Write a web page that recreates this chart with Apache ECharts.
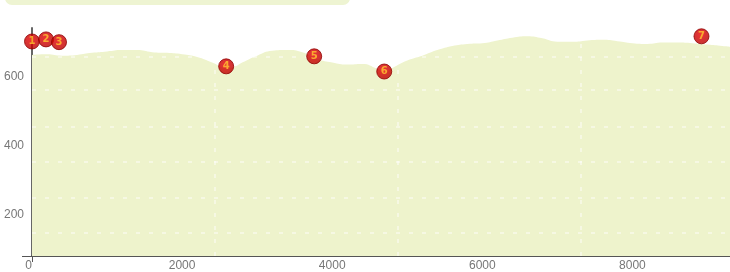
<!DOCTYPE html>
<html>
<head>
<meta charset="utf-8">
<script src="https://cdn.jsdelivr.net/npm/echarts@6/dist/echarts.min.js"></script>
<style>html,body{margin:0;padding:0;background:#fff}#c{width:730px;height:272px}</style>
</head>
<body>
<div id="c"></div>
<script>
// Elevation profile (distance, elevation)
const distance = [0,200,400,600,800,1000,1200,1400,1600,1800,2000,2200,2400,2600,2700,2800,3000,3200,3400,3600,3800,4000,4200,4400,4600,4700,4800,5000,5200,5400,5600,5800,6000,6200,6400,6600,6800,7000,7200,7400,7600,7800,8000,8200,8400,8600,8800,9000,9200,9300];
const elevation = [662,664,660,662,668,672,676,676,670,668,664,656,640,624,628,640,660,674,676,670,650,640,634,636,622,612,624,646,660,676,688,694,696,704,712,716,710,700,700,704,706,702,696,694,698,698,696,692,688,686];
// Waypoint markers
const markerLabels = ['1','2','3','4','5','6','7'];
const markerX = [0,187,360,2587,3760,4693,8920];
const markerY = [701,707,699,629,658,614,716];
// Axis labels and decorative grid positions
const xTicks = [0,2000,4000,6000,8000];
const yTicks = [200,400,600];
const gridY = [148,250,354,455,562,658];
const gridX = [2440,4867,7307];

const chart = echarts.init(document.getElementById('c'));
const gridLineStyle = {color:'rgba(255,255,255,0.6)', width:1.5, type:[4,9]};
const font = 'Liberation Sans, Arial, sans-serif';
chart.setOption({
  animation:false,
  graphic:[{type:'rect', shape:{x:5,y:-10,width:345,height:15,r:7}, style:{fill:'#eef4d2'}, z:10}],
  grid:{left:32,right:0,top:28,bottom:16},
  xAxis:{type:'value',min:0,max:9300,interval:2000,
    axisLine:{show:true,onZero:false,lineStyle:{color:'#555',width:2}},
    axisTick:{show:true,customValues:[0],length:6,lineStyle:{color:'#555',width:1}},
    axisLabel:{customValues:xTicks,formatter:v=>String(v),color:'#777',fontSize:12,fontFamily:font,margin:4,alignMinLabel:'right'},
    splitLine:{show:false}},
  yAxis:{type:'value',min:80,max:740,
    axisLine:{show:true,onZero:false,lineStyle:{color:'#666',width:2}},
    axisTick:{show:true,customValues:[80],length:10,lineStyle:{color:'#555',width:1}},
    axisLabel:{customValues:yTicks,formatter:v=>String(v),color:'#777',fontSize:12,fontFamily:font,margin:8},
    splitLine:{show:false}},
  series:[
    {type:'line',data:distance.map((d,i)=>[d,elevation[i]]),smooth:true,symbol:'none',
     lineStyle:{width:0},areaStyle:{color:'#eef3cc',opacity:1},z:1,
     markLine:{silent:true,symbol:'none',label:{show:false},lineStyle:gridLineStyle,
       data:gridY.map(v=>({yAxis:v})).concat(gridX.map(v=>({xAxis:v})))}},
    {type:'scatter',clip:false,z:5,data:markerX.map((x,i)=>[x,markerY[i]]),
     symbol:'circle',symbolSize:15,
     itemStyle:{color:{type:'radial',x:0.45,y:0.4,r:0.6,colorStops:[{offset:0,color:'#e80000'},{offset:1,color:'#b80000'}]},borderColor:'#900000',borderWidth:1},
     label:{show:true,position:'inside',formatter:p=>markerLabels[p.dataIndex],color:'#ffc830',fontSize:10,fontWeight:'bold',fontFamily:'DejaVu Sans, sans-serif'}}
  ]
});
</script>
</body>
</html>
